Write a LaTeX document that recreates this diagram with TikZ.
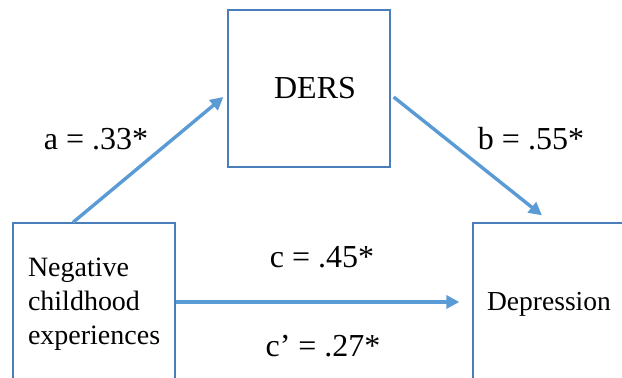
\documentclass[tikz,border=0pt]{standalone}
\usepackage{fontspec}
\setmainfont{Liberation Serif}
\usetikzlibrary{arrows.meta}

\definecolor{boxline}{RGB}{74,126,187}
\definecolor{pathline}{RGB}{91,155,213}

\begin{document}
\begin{tikzpicture}[
    x={(1pt,0pt)},
    y={(0pt,-1pt)},
    box/.style={draw=boxline,line width=1.3pt,fill=white,inner sep=0pt},
    path/.style={draw=pathline,line width=3.4pt,-{Triangle[length=13pt,width=13pt]}},
    coef/.style={anchor=base,font=\fontsize{32}{36}\selectfont}
]

% -------------------------------------------------
% Рамка рисунка
% -------------------------------------------------

\clip (0,0) rectangle (622,378);
\fill[white] (0,0) rectangle (622,378);

% -------------------------------------------------
% Блоки модели
% -------------------------------------------------

\node[box,minimum width=162pt,minimum height=162pt,text width=132pt,align=left,
      font=\fontsize{28}{34}\selectfont] (nce) at (94,304)
      {Negative\\childhood\\experiences};
\node[box,minimum width=162pt,minimum height=157pt,
      font=\fontsize{32}{38}\selectfont] (ders) at (309,88.5) {\hspace*{12pt}DERS};
\node[box,minimum width=160pt,minimum height=162pt,
      font=\fontsize{27.5}{33}\selectfont] (dep) at (553,304) {Depression\hspace*{8pt}};

% -------------------------------------------------
% Пути
% -------------------------------------------------

\draw[path] ([xshift=-21pt]nce.north) -- ([xshift=-4pt,yshift=-8.5pt]ders.west);
\draw[path] ([xshift=3pt,yshift=-8.5pt]ders.east) -- ([xshift=-11pt,yshift=7pt]dep.north);
\draw[path] ([yshift=2pt]nce.east) -- ([xshift=-13pt,yshift=2pt]dep.west);

% -------------------------------------------------
% Коэффициенты
% -------------------------------------------------

\node[coef] (ca) at (96,149)  {a = .33*};
\node[coef] (cb) at (531,149) {b = .55*};
\node[coef] (cc) at (322,267) {c = .45*};
\node[coef] (cd) at (323,356) {c’ = .27*};

\end{tikzpicture}
\end{document}
